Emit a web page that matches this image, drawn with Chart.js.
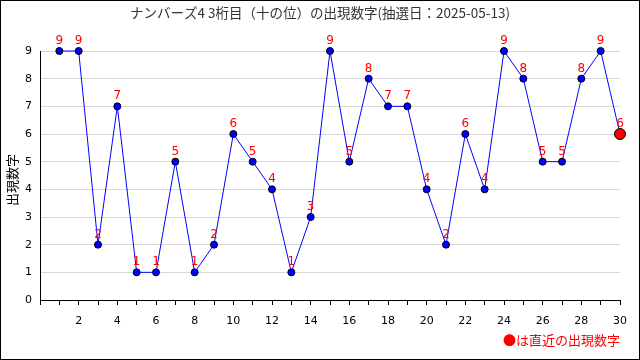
<!DOCTYPE html>
<html>
<head>
<meta charset="utf-8">
<script src="https://cdn.jsdelivr.net/npm/chart.js@4"></script>
<style>
  html, body { margin: 0; padding: 0; background: #fff; }
  #wrap { width: 640px; height: 360px; position: relative; }
</style>
</head>
<body>
<div id="wrap"><canvas id="digitChart" width="640" height="360"></canvas></div>
<script>
const draws = [1,2,3,4,5,6,7,8,9,10,11,12,13,14,15,16,17,18,19,20,21,22,23,24,25,26,27,28,29,30];
const digits = [9,9,2,7,1,1,5,1,2,6,5,4,1,3,9,5,8,7,7,4,2,6,4,9,8,5,5,8,9,6];
const yTicks = [0,1,2,3,4,5,6,7,8,9];
const titleText = "ナンバーズ4 3桁目（十の位）の出現数字(抽選日：2025-05-13)";
const yTitle = "出現数字";
const noteText = "●は直近の出現数字";

const fontFam = '"DejaVu Sans", "Noto Sans CJK JP", sans-serif';
const jpFam = '"Noto Sans CJK JP", "DejaVu Sans", sans-serif';
const lastIdx = digits.length - 1;

// labels above points, frame, title and note
const decorPlugin = {
    id: 'decor',
    afterDatasetsDraw(chart) {
        const ctx = chart.ctx;
        const meta = chart.getDatasetMeta(0);
        ctx.save();
        ctx.fillStyle = '#ff0000';
        ctx.font = '12px ' + fontFam;
        ctx.textAlign = 'center';
        ctx.textBaseline = 'middle';
        meta.data.forEach((pt, i) => {
            ctx.fillText(String(digits[i]), pt.x, pt.y - 10);
        });
        ctx.restore();
    },
    afterDraw(chart) {
        const ctx = chart.ctx;
        ctx.save();
        ctx.strokeStyle = '#000';
        ctx.lineWidth = 1;
        ctx.strokeRect(0.5, 0.5, 639, 359);

        ctx.fillStyle = '#333';
        ctx.font = '13.5px ' + jpFam;
        ctx.textAlign = 'center';
        ctx.textBaseline = 'middle';
        ctx.fillText(titleText, 320, 13);

        ctx.translate(12, 180);
        ctx.rotate(-Math.PI / 2);
        ctx.fillStyle = '#000';
        ctx.font = '13px ' + jpFam;
        ctx.fillText(yTitle, 0, 0);
        ctx.restore();

        ctx.save();
        ctx.fillStyle = '#ff0000';
        ctx.font = '13px ' + jpFam;
        ctx.textAlign = 'right';
        ctx.textBaseline = 'middle';
        ctx.fillText(noteText, 620, 340);
        ctx.restore();
    }
};

const ctx = document.getElementById('digitChart').getContext('2d');
const digitChart = new Chart(ctx, {
    type: 'line',
    data: {
        datasets: [{
            data: draws.map((d, i) => ({ x: d, y: digits[i] })),
            borderColor: '#0000ff',
            borderWidth: 1,
            tension: 0,
            clip: false,
            pointRadius: digits.map((v, i) => i === lastIdx ? 5.5 : 3.5),
            pointBackgroundColor: digits.map((v, i) => i === lastIdx ? '#ff0000' : '#0000ff'),
            pointBorderColor: '#000',
            pointBorderWidth: 1
        }]
    },
    options: {
        responsive: false,
        animation: false,
        layout: { padding: { left: 0, right: 20, top: 51, bottom: 0 } },
        plugins: {
            legend: { display: false },
            tooltip: { enabled: false }
        },
        scales: {
            x: {
                type: 'linear',
                min: 0,
                max: 30,
                grid: { drawOnChartArea: false, color: '#000', tickLength: 5 },
                border: { color: '#000' },
                ticks: {
                    stepSize: 1,
                    autoSkip: false,
                    maxRotation: 0,
                    color: '#000',
                    font: { size: 11, family: fontFam },
                    padding: 10,
                    callback: v => (v > 0 && v % 2 === 0) ? String(v) : ''
                },
                afterFit(scale) { scale.height = 60; }
            },
            y: {
                type: 'linear',
                min: 0,
                max: 9,
                grid: { color: '#d8d8d8', drawTicks: false },
                border: { color: '#000' },
                ticks: {
                    stepSize: 1,
                    color: '#000',
                    padding: 8,
                    font: { size: 11, family: fontFam },
                    callback: v => yTicks.includes(v) ? String(v) : ''
                },
                afterFit(scale) { scale.width = 40; }
            }
        }
    },
    plugins: [decorPlugin]
});
</script>
</body>
</html>
